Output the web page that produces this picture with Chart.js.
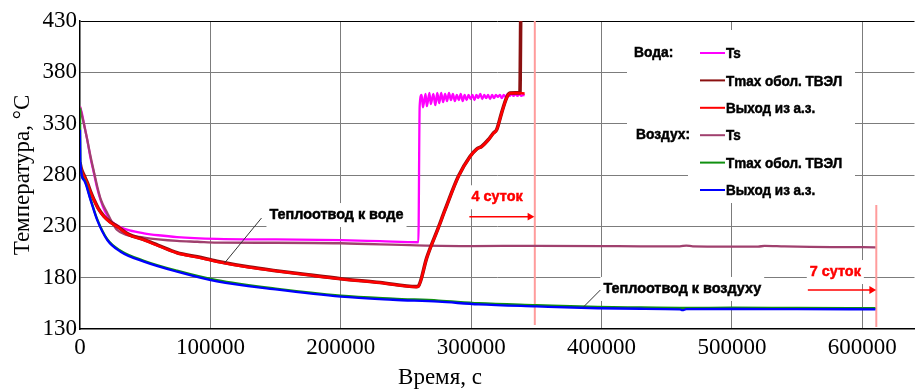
<!DOCTYPE html>
<html>
<head>
<meta charset="utf-8">
<script src="https://cdn.jsdelivr.net/npm/chart.js@4.4.0/dist/chart.umd.min.js"></script>
<style>
    html, body { margin: 0; padding: 0; background: #fff; }
</style>
</head>
<body>
<canvas id="tempChart" width="919" height="390"></canvas>
<script>
// --- data (time, s / temperature, °C) ---
const timeTicks = [0, 100000, 200000, 300000, 400000, 500000, 600000];
const tempTicks = [130, 180, 230, 280, 330, 380, 430];
const groupNames = ['Вода:', 'Воздух:'];
const seriesNames = ['Ts', 'Tmax обол. ТВЭЛ', 'Выход из а.з.'];

// Вода: Ts
const waterTsTime = [0, 1500, 3000, 5600, 8000, 10700, 13000, 15800, 19000, 23400, 27000, 31100, 38000, 49000, 60000, 74400,
    105000, 150000, 200000, 230000, 259500, 260500,
    262000, 263000, 265000, 266000, 268000, 269000, 271000, 272500, 274000, 275500, 277000, 278500, 280000, 281500,
    283000, 284500, 286000, 287500, 289000, 290500, 292000, 293500, 295000, 296500, 298000, 299500, 301000, 302500,
    304000, 305500, 307000, 308500, 310000, 311500, 313000, 314500, 316000, 317500, 319000, 320500, 322000, 323500,
    325000, 326500, 328000, 329500, 331000, 332500, 334000, 335500, 337000, 338500, 340000, 341000];
const waterTsTemp = [346.5, 340, 330, 314, 297, 281.7, 268, 255.6, 245, 236, 232, 229, 226, 223.2, 221.3, 219.5,
    217.8, 217.2, 216.5, 215.5, 214.5, 347,
    358, 346, 359, 347, 360, 349, 359, 348, 360, 350, 360, 351, 359, 352,
    360, 353, 359, 352, 358, 353, 359, 352, 358, 353, 358, 354, 358, 353,
    358, 355, 359, 354, 358, 355, 358, 354, 358, 355, 358, 356, 358, 355,
    358, 356, 359, 357, 359, 357, 359, 357, 359, 357, 358, 357.5];

// Вода: Tmax оболочки ТВЭЛ
const waterCladTime = [0, 1000, 3000, 5600, 8000, 10700, 14000, 18300, 23000, 28500, 37000, 49000, 60000, 74400, 90000,
    105000, 130000, 150000, 175000, 200000, 230000, 258000, 259500, 265900, 274900, 280000, 290200, 299100, 304200,
    308000, 313100, 317000, 319500, 323300, 327100, 329700, 334000, 337400, 338000];
const waterCladTemp = [292, 286, 280, 272.5, 264, 256, 247.5, 240, 234.5, 230, 222.5, 217, 211.5, 204.3, 200.3,
    196, 190.3, 186.8, 182.8, 179, 175.3, 171.3, 171.8, 199.3, 229, 246.2, 278.7, 298, 305.3,
    307.8, 314.3, 320.8, 324, 340.3, 355, 359.8, 360, 360, 435];

// Вода: выход из а.з.
const waterOutTime = [0, 1000, 3000, 5600, 8000, 10700, 14000, 18300, 23000, 28500, 37000, 49000, 60000, 74400, 90000,
    105000, 130000, 150000, 175000, 200000, 230000, 258000, 259500, 265900, 274900, 280000, 290200, 299100, 304200,
    308000, 313100, 317000, 319500, 323300, 327100, 329700, 335000, 341000];
const waterOutTemp = [291, 285, 279, 271.9, 263.5, 255.6, 247, 239.4, 234, 229.6, 222, 216.7, 211, 204, 199.8,
    195.6, 190, 186.5, 182.5, 178.7, 175, 171, 171.5, 199, 228.6, 245.9, 278.4, 297.8, 305,
    307.6, 314, 320.6, 323.8, 340, 354.7, 359.6, 359.8, 359.5];

// Воздух: Ts
const airTsTime = [0, 1500, 3000, 5600, 8100, 10700, 13200, 16000, 20900, 24500, 28500, 35000, 49000, 60000, 74400, 90000,
    105000, 150000, 200000, 258000, 300000, 350000, 400000, 430000, 460000, 465000, 470000, 500000, 520000, 525000,
    540000, 560000, 580000, 610000];
const airTsTemp = [346.5, 338, 330, 314, 298, 283, 269, 256, 243, 234, 226.4, 222, 219, 217.3, 215.8, 215,
    214.2, 214, 213.5, 211.5, 210.8, 211, 210.8, 210.5, 210.5, 211.3, 210.5, 210.3, 210.2, 211,
    210.5, 210, 209.8, 209.6];

// Воздух: Tmax оболочки ТВЭЛ
const airCladTime = [0, 300, 3000, 8100, 13200, 20900, 31100, 49000, 74400, 105000, 150000, 200000, 240000, 275000,
    305600, 350000, 397000, 430000, 460000, 465000, 500000, 550000, 610000];
const airCladTemp = [345, 292, 276, 256.5, 237, 217.5, 206.3, 196.5, 186.8, 177.5, 169.3, 162.5, 159.6, 157.7,
    155.2, 153.3, 151.5, 151, 150.6, 150.5, 150.8, 150.5, 150.3];

// Воздух: выход из а.з.
const airOutTime = [0, 300, 3000, 8100, 13200, 20900, 31100, 49000, 74400, 105000, 150000, 200000, 240000, 275000,
    305600, 350000, 397000, 430000, 460000, 462000, 465000, 500000, 550000, 610000];
const airOutTemp = [324, 292, 275, 255.6, 236, 216.7, 205.3, 195.6, 185.8, 176.3, 168.5, 161.5, 158.5, 156.6,
    154, 152, 150.2, 149.7, 149.2, 148.3, 149.3, 149.5, 149.3, 149.2];

// 4 и 7 суток (отметки на графике)
const dayMarkTime = [348800, 610700];

// --- helpers ---
const serif = "'Liberation Serif', 'Times New Roman', serif";
const sans = "'Liberation Sans', Arial, sans-serif";
const gridGray = '#7c7c7c';

function points(times, temps) {
    return times.map((t, i) => ({ x: t, y: temps[i] }));
}

function curve(label, group, times, temps, color, width, order) {
    return {
        label: label,
        group: group,
        data: points(times, temps),
        borderColor: color,
        backgroundColor: color,
        borderWidth: width,
        pointRadius: 0,
        cubicInterpolationMode: 'monotone',
        order: order
    };
}

function plainLine(data, color, width, order) {
    return { data: data, borderColor: color, borderWidth: width, pointRadius: 0, order: order };
}

function arrow(fromT, toT, temp, color) {
    return {
        data: [{ x: fromT, y: temp }, { x: toT, y: temp }],
        borderColor: color,
        backgroundColor: color,
        borderWidth: 1.5,
        pointRadius: [0, 4.5],
        pointBorderWidth: 0,
        pointStyle: 'triangle',
        rotation: 90,
        order: 1
    };
}

// annotations (in data units)
const notes = [
    { text: 'Теплоотвод к воде', t: 145300, temp: 241, color: '#000' },
    { text: 'Теплоотвод к воздуху', t: 401400, temp: 169, color: '#000' },
    { text: '4 суток', t: 300300, temp: 258.3, color: '#ff0000' },
    { text: '7 суток', t: 559700, temp: 185.5, color: '#ff0000' }
];

const datasets = [
    curve(seriesNames[2], 1, airOutTime, airOutTemp, '#0000ff', 2.3, 2),
    curve(seriesNames[1], 1, airCladTime, airCladTemp, '#109010', 2.3, 3),
    curve(seriesNames[2], 0, waterOutTime, waterOutTemp, '#ff0000', 2.5, 4),
    curve(seriesNames[1], 0, waterCladTime, waterCladTemp, '#8b1010', 3.6, 5),
    curve(seriesNames[0], 1, airTsTime, airTsTemp, '#a0406e', 2.3, 6),
    curve(seriesNames[0], 0, waterTsTime, waterTsTemp, '#ff00ff', 2.3, 7),
    plainLine([{ x: dayMarkTime[0], y: 430 }, { x: dayMarkTime[0], y: 134 }], '#ff9c9c', 2, 9),
    plainLine([{ x: dayMarkTime[1], y: 250.8 }, { x: dayMarkTime[1], y: 132 }], '#ff9c9c', 2, 9),
    arrow(298600, 345000, 239.4, '#ff0000'),
    arrow(558200, 607100, 168, '#ff0000'),
    plainLine([{ x: 110900, y: 194.3 }, { x: 139200, y: 238.1 }], '#333', 1, 1),
    plainLine([{ x: 386100, y: 151.4 }, { x: 399100, y: 168 }], '#333', 1, 1)
];

function squeezedText(ctx, text, x, y, size, color, squeeze) {
    ctx.save();
    ctx.translate(x, y);
    ctx.scale(squeeze, 1);
    ctx.font = 'bold ' + size + 'px ' + sans;
    ctx.fillStyle = color;
    ctx.strokeStyle = color;
    ctx.lineWidth = 0.5;
    ctx.textBaseline = 'middle';
    ctx.textAlign = 'left';
    ctx.fillText(text, 0, 0);
    ctx.strokeText(text, 0, 0);
    ctx.restore();
}

const overlay = {
    id: 'overlay',
    beforeDatasetsDraw(chart) {
        const ctx = chart.ctx;
        const xs = chart.scales.x, ys = chart.scales.y;
        ctx.save();
        ctx.fillStyle = '#fff';
        // legend background
        ctx.fillRect(627, 30, 228, 117);
        ctx.fillRect(688, 147, 167, 56);
        // note backgrounds
        ctx.font = 'bold 15px ' + sans;
        notes.forEach(n => {
            const x = xs.getPixelForValue(n.t);
            const y = ys.getPixelForValue(n.temp);
            const w = ctx.measureText(n.text).width * 0.96;
            ctx.fillRect(x - 3, y - 12, w + 6, 24);
        });
        ctx.restore();
    },
    afterDatasetsDraw(chart) {
        const ctx = chart.ctx;
        const xs = chart.scales.x, ys = chart.scales.y;
        notes.forEach(n => {
            squeezedText(ctx, n.text, xs.getPixelForValue(n.t), ys.getPixelForValue(n.temp), 15, n.color, 0.96);
        });

        // legend
        const order = [5, 3, 2, 4, 1, 0];
        order.forEach((di, row) => {
            const ds = chart.data.datasets[di];
            const y = 53 + row * 27.4;
            if (row % 3 === 0) {
                squeezedText(ctx, groupNames[ds.group], row === 0 ? 634 : 636, y, 15, '#000', 0.92);
            }
            ctx.save();
            ctx.strokeStyle = ds.borderColor;
            ctx.lineWidth = 2;
            ctx.beginPath();
            ctx.moveTo(700, y);
            ctx.lineTo(725, y);
            ctx.stroke();
            ctx.restore();
            squeezedText(ctx, ds.label, 726, y + 1, 15, '#000', 0.9);
        });

        // x axis title
        ctx.save();
        ctx.font = '23px ' + serif;
        ctx.fillStyle = '#000';
        ctx.textAlign = 'center';
        ctx.textBaseline = 'alphabetic';
        ctx.fillText('Время, с', 440, 384);
        ctx.restore();
    }
};

new Chart(document.getElementById('tempChart'), {
    type: 'line',
    data: { datasets: datasets },
    plugins: [overlay],
    options: {
        responsive: false,
        animation: false,
        devicePixelRatio: 1,
        layout: { padding: { top: 21, right: 2, left: 0, bottom: 0 } },
        plugins: {
            legend: { display: false },
            tooltip: { enabled: false }
        },
        scales: {
            x: {
                type: 'linear',
                min: 0,
                max: 640000,
                afterBuildTicks: s => { s.ticks = timeTicks.map(v => ({ value: v })); },
                afterFit: s => { s.height = 61; },
                grid: {
                    color: c => (c.tick && c.tick.value === 0) ? 'rgba(0,0,0,0)' : gridGray,
                    lineWidth: 1,
                    drawTicks: false
                },
                border: { color: '#000', width: 1.5 },
                ticks: {
                    color: '#000',
                    font: { family: serif, size: 23 },
                    padding: 5,
                    maxRotation: 0,
                    autoSkip: false,
                    callback: v => String(v)
                }
            },
            y: {
                min: 130,
                max: 430,
                afterBuildTicks: s => { s.ticks = tempTicks.map(v => ({ value: v })); },
                afterFit: s => { s.width = 80; },
                grid: {
                    color: c => {
                        if (!c.tick) return gridGray;
                        if (c.tick.value === 430) return '#000';
                        if (c.tick.value === 130) return 'rgba(0,0,0,0)';
                        return gridGray;
                    },
                    lineWidth: 1,
                    drawTicks: false
                },
                border: { color: '#000', width: 1.5 },
                ticks: {
                    color: '#000',
                    font: { family: serif, size: 23 },
                    padding: 3,
                    autoSkip: false,
                    callback: v => String(v)
                },
                title: {
                    display: true,
                    text: 'Температура, °C',
                    color: '#000',
                    font: { family: serif, size: 23 },
                    padding: { top: 9, bottom: 0 }
                }
            }
        }
    }
});
</script>
</body>
</html>
